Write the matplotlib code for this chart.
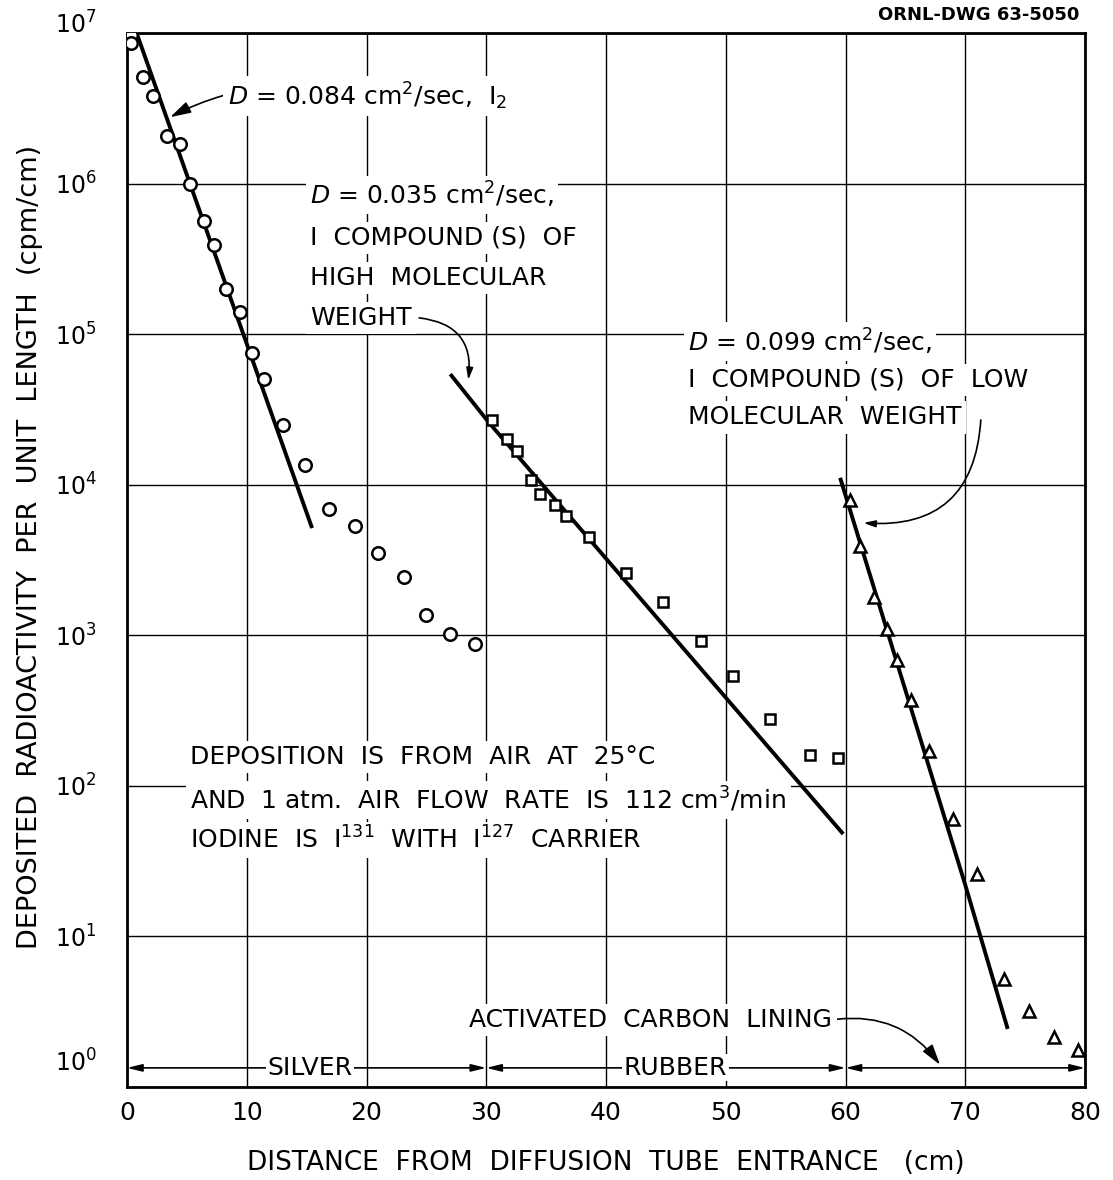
import numpy as np
import matplotlib
matplotlib.use('Agg')
import matplotlib.pyplot as plt
import matplotlib.transforms as mtransforms

# silver section (circles)
silver_x = [0.3, 0.3, 1.3, 2.2, 3.3, 4.4, 5.3, 6.4, 7.3, 8.3, 9.4, 10.4, 11.4,
            13.0, 14.9, 16.9, 19.0, 21.0, 23.1, 25.0, 27.0, 29.1]
silver_y = [9.7e6, 8.6e6, 5.1e6, 3.8e6, 2.07e6, 1.83e6, 1.0e6, 5.65e5, 3.9e5,
            2.0e5, 1.41e5, 7.5e4, 5.0e4, 2.5e4, 1.36e4, 6.9e3, 5.3e3, 3.5e3,
            2.45e3, 1.37e3, 1.02e3, 8.8e2]

# rubber section (squares)
rubber_x = [30.5, 31.7, 32.6, 33.7, 34.5, 35.7, 36.7, 38.6, 41.7, 44.8, 47.9,
            50.6, 53.7, 57.0, 59.4]
rubber_y = [2.7e4, 2.0e4, 1.68e4, 1.07e4, 8.7e3, 7.3e3, 6.2e3, 4.5e3, 2.6e3,
            1.66e3, 9.1e2, 5.4e2, 2.8e2, 1.6e2, 1.52e2]

# activated carbon section (triangles)
carbon_x = [60.4, 61.2, 62.4, 63.5, 64.3, 65.5, 67.0, 69.0, 71.0, 73.2, 75.3,
            77.4, 79.4]
carbon_y = [7.9e3, 3.9e3, 1.8e3, 1.1e3, 6.9e2, 3.7e2, 1.7e2, 60, 26, 5.2, 3.2,
            2.15, 1.75]

# fitted lines
fit1_x = [0.8, 15.4]
fit1_y = [1.0e7, 5.3e3]
fit2_x = [27.1, 30.2, 59.7]
fit2_y = [5.3e4, 2.6e4, 49]
fit3_x = [59.6, 70.0, 73.5]
fit3_y = [1.08e4, 22, 2.5]

xticks = [0, 10, 20, 30, 40, 50, 60, 70, 80]
ydecades = [0, 1, 2, 3, 4, 5, 6, 7]

fig = plt.figure(figsize=(11.13, 11.8), dpi=100)
ax = fig.add_axes([127 / 1113, 1 - 1087 / 1180, 958 / 1113, 1054 / 1180])

ax.set_yscale('log')
ax.set_xlim(0, 80)
ax.set_ylim(1, 1e7)
ax.set_xticks(xticks)
ax.set_xticklabels([str(v) for v in xticks], fontsize=18)
ax.set_yticks([10.0 ** k for k in ydecades])
ax.set_yticklabels([r'$10^{%d}$' % k for k in ydecades], fontsize=17)
ax.yaxis.set_minor_locator(matplotlib.ticker.NullLocator())
ax.tick_params(axis='both', length=0)
ax.tick_params(axis='y', pad=22)
ax.tick_params(axis='x', pad=10)
ax.grid(True, color='black', linewidth=1.0)
for s in ax.spines.values():
    s.set_linewidth(2.0)

# shift the end labels like the original drawing
ylabs = ax.get_yticklabels()
ylabs[0].set_transform(ylabs[0].get_transform() +
                       mtransforms.ScaledTranslation(0, 0.27, fig.dpi_scale_trans))
ylabs[-1].set_transform(ylabs[-1].get_transform() +
                        mtransforms.ScaledTranslation(0, 0.1, fig.dpi_scale_trans))

ax.set_xlabel('DISTANCE  FROM  DIFFUSION  TUBE  ENTRANCE   (cm)', fontsize=19)
ax.set_ylabel('DEPOSITED  RADIOACTIVITY  PER  UNIT  LENGTH  (cpm/cm)', fontsize=19.5)
ax.xaxis.set_label_coords(0.5, -0.060)
ax.yaxis.set_label_coords(-0.088, 0.512)

# data and fits
ax.plot(fit1_x, fit1_y, color='black', lw=2.8, zorder=3)
ax.plot(fit2_x, fit2_y, color='black', lw=2.8, zorder=3)
ax.plot(fit3_x, fit3_y, color='black', lw=2.8, zorder=3)
ax.plot(silver_x, silver_y, 'o', ms=9, mfc='white', mec='black', mew=1.8, zorder=4)
ax.plot(rubber_x, rubber_y, 's', ms=7.5, mfc='white', mec='black', mew=1.8, zorder=4)
ax.plot(carbon_x, carbon_y, '^', ms=8, mfc='white', mec='black', mew=1.8, zorder=4)

wbox = dict(facecolor='white', edgecolor='none', pad=3)
txt = dict(fontsize=18, va='center', ha='left', color='black', zorder=2.5, bbox=wbox)
arr = dict(arrowstyle='-|>,head_length=0.7,head_width=0.2', color='black', lw=1.2,
           shrinkA=0, shrinkB=0)

ax.annotate(r'$D$ = 0.084 cm$^2$/sec,  I$_2$', xy=(3.6, 2.76e6), xytext=(8.4, 3.8e6),
            arrowprops=dict(arr, connectionstyle='arc3,rad=0.2'), **txt)

ax.text(15.3, 10 ** 5.924, r'$D$ = 0.035 cm$^2$/sec,', **txt)
ax.text(15.3, 10 ** 5.639, 'I  COMPOUND (S)  OF', **txt)
ax.text(15.3, 10 ** 5.373, 'HIGH  MOLECULAR', **txt)
ax.annotate('', xy=(28.5, 10 ** 4.696), xytext=(24.4, 10 ** 5.108),
            arrowprops=dict(arr, connectionstyle='arc3,rad=-0.5'))
ax.text(15.3, 10 ** 5.108, 'WEIGHT', **txt)

ax.text(46.85, 10 ** 4.95, r'$D$ = 0.099 cm$^2$/sec,', **txt)
ax.text(46.85, 10 ** 4.696, 'I  COMPOUND (S)  OF  LOW', **txt)
ax.text(46.85, 10 ** 4.448, 'MOLECULAR  WEIGHT', **txt)
ax.annotate('', xy=(61.5, 10 ** 3.746), xytext=(71.3, 10 ** 4.43),
            arrowprops=dict(arr, connectionstyle='arc3,rad=-0.5'))

ax.text(5.3, 10 ** 2.192, 'DEPOSITION  IS  FROM  AIR  AT  25°C', **txt)
ax.text(5.3, 10 ** 1.907, r'AND  1 atm.  AIR  FLOW  RATE  IS  112 cm$^3$/min', **txt)
ax.text(5.3, 10 ** 1.641, r'IODINE  IS  I$^{131}$  WITH  I$^{127}$  CARRIER', **txt)

ax.annotate('ACTIVATED  CARBON  LINING', xy=(67.9, 10 ** 0.147), xytext=(28.6, 10 ** 0.446),
            arrowprops=dict(arr, connectionstyle='arc3,rad=-0.3',
                            relpos=(1.0, 0.5)), **txt)

# section arrows along the bottom
yb = 10 ** 0.127
dbl = dict(arrowstyle='<|-|>,head_length=0.9,head_width=0.22', color='black', lw=1.2,
           shrinkA=0, shrinkB=0)
for a, b in [(0, 30), (30, 60), (60, 80)]:
    ax.annotate('', xy=(a, yb), xytext=(b, yb), arrowprops=dbl, zorder=5)
ax.text(15.3, yb, 'SILVER', fontsize=18, ha='center', va='center', zorder=6,
        bbox=dict(facecolor='white', edgecolor='none', pad=1))
ax.text(45.8, yb, 'RUBBER', fontsize=18, ha='center', va='center', zorder=6,
        bbox=dict(facecolor='white', edgecolor='none', pad=1))

fig.text(0.970, 0.987, 'ORNL-DWG 63-5050', fontsize=13, fontweight='bold',
         ha='right', va='center')

fig.savefig('out.png', dpi=100)
